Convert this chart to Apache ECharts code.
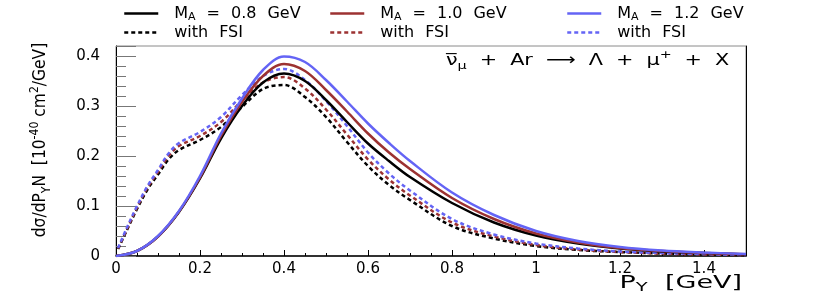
<!DOCTYPE html>
<html>
<head>
<meta charset="utf-8">
<script src="https://cdn.jsdelivr.net/npm/echarts@6/dist/echarts.min.js"></script>
<style>html,body{margin:0;padding:0;background:#fff;overflow:hidden;}#c{width:830px;height:294px;}</style>
</head>
<body>
<div id="c"></div>
<script>
// ---- data ----
const pSolid = [0, 0.05, 0.1, 0.15, 0.2, 0.25, 0.3, 0.35, 0.4, 0.45, 0.5, 0.55, 0.6, 0.65, 0.7, 0.8, 0.9, 1.0, 1.1, 1.2, 1.3, 1.4, 1.5];
const ma08 = [0, 0.01, 0.039, 0.088, 0.155, 0.235, 0.3, 0.347, 0.365, 0.35, 0.312, 0.268, 0.225, 0.19, 0.158, 0.106, 0.067, 0.041, 0.025, 0.015, 0.009, 0.006, 0.003];
const ma10 = [0, 0.01, 0.039, 0.089, 0.157, 0.24, 0.308, 0.36, 0.384, 0.37, 0.332, 0.289, 0.245, 0.207, 0.174, 0.116, 0.074, 0.045, 0.027, 0.016, 0.01, 0.006, 0.0035];
const ma12 = [0, 0.01, 0.04, 0.09, 0.16, 0.245, 0.315, 0.372, 0.399, 0.388, 0.352, 0.309, 0.265, 0.226, 0.19, 0.127, 0.082, 0.05, 0.03, 0.018, 0.011, 0.007, 0.004];
const pFSI = [0.005, 0.025, 0.05, 0.075, 0.1, 0.125, 0.15, 0.2, 0.25, 0.3, 0.35, 0.4, 0.45, 0.5, 0.55, 0.6, 0.65, 0.7, 0.8, 0.9, 1.0, 1.1, 1.2, 1.3, 1.4, 1.5];
const fsi08 = [0.014, 0.05, 0.094, 0.133, 0.163, 0.193, 0.212, 0.232, 0.258, 0.298, 0.334, 0.342, 0.318, 0.278, 0.228, 0.18, 0.142, 0.112, 0.06, 0.035, 0.02, 0.012, 0.008, 0.005, 0.003, 0.002];
const fsi10 = [0.015, 0.052, 0.097, 0.137, 0.168, 0.2, 0.22, 0.24, 0.268, 0.311, 0.347, 0.358, 0.335, 0.293, 0.243, 0.193, 0.153, 0.121, 0.067, 0.039, 0.022, 0.013, 0.008, 0.005, 0.003, 0.002];
const fsi12 = [0.016, 0.055, 0.1, 0.14, 0.172, 0.205, 0.226, 0.248, 0.278, 0.322, 0.36, 0.374, 0.352, 0.31, 0.26, 0.207, 0.165, 0.131, 0.074, 0.043, 0.025, 0.015, 0.009, 0.006, 0.004, 0.002];
const xTicks = [0, 0.2, 0.4, 0.6, 0.8, 1, 1.2, 1.4];
const yTicks = [0, 0.1, 0.2, 0.3, 0.4];

const FONT = '"DejaVu Sans", "Liberation Sans", sans-serif';
const cBlack = '#000000', cRed = '#9c3232', cBlue = '#6464f5';
const DASH = [4, 3];

function pairs(xs, ys) { return xs.map((x, i) => [x, ys[i]]); }
function isTick(v, list) { return list.some(t => Math.abs(t - v) < 1e-6); }

const legendNames = {
  'MA08': '{a|M}{b|A}{g| }{a|=}{g| }{a|0.8}{g| }{a|GeV}',
  'MA10': '{a|M}{b|A}{g| }{a|=}{g| }{a|1.0}{g| }{a|GeV}',
  'MA12': '{a|M}{b|A}{g| }{a|=}{g| }{a|1.2}{g| }{a|GeV}',
  'FSI08': '{a|with}{g| }{a|FSI}', 'FSI10': '{a|with}{g| }{a|FSI}', 'FSI12': '{a|with}{g| }{a|FSI}'
};
const legRich = {
  a: { fontSize: 16, fontFamily: FONT, color: '#000', lineHeight: 19 },
  b: { fontSize: 11, fontFamily: FONT, color: '#000', lineHeight: 11, verticalAlign: 'bottom' },
  g: { fontSize: 16, width: 11, lineHeight: 19 }
};
function mkLegend(left, names) {
  return {
    orient: 'vertical', left: left, top: 4, padding: 0, itemWidth: 34, itemHeight: 14, itemGap: 0,
    selectedMode: false, data: names,
    formatter: n => '{g| }' + legendNames[n],
    itemStyle: { opacity: 0, borderWidth: 0 },
    lineStyle: { width: 2.5 },
    textStyle: { rich: Object.assign({}, legRich), lineHeight: 19 }
  };
}
function mkSeries(name, xs, ys, color, dashed) {
  return {
    name: name, type: 'line', data: pairs(xs, ys), smooth: 0.35, symbol: 'none', showSymbol: false,
    xAxisIndex: 0, yAxisIndex: 0, z: dashed ? 3 : 4,
    lineStyle: { color: color, width: 2.5, type: dashed ? DASH : 'solid', cap: 'butt' },
    itemStyle: { color: color }
  };
}

const chart = echarts.init(document.getElementById('c'), null, { renderer: 'canvas' });
chart.setOption({
  animation: false,
  backgroundColor: '#ffffff',
  grid: { left: 116, top: 46, width: 630, height: 210, show: true, borderColor: '#8a8a8a', borderWidth: 1, backgroundColor: 'transparent' },
  legend: [mkLegend(123, ['MA08', 'FSI08']), mkLegend(329, ['MA10', 'FSI10']), mkLegend(566, ['MA12', 'FSI12'])],
  xAxis: [
    { type: 'value', min: 0, max: 1.5, interval: 0.2, position: 'bottom',
      axisLine: { show: true, lineStyle: { color: '#000', width: 1.5 } },
      axisTick: { show: true, inside: true, length: 6, lineStyle: { color: '#000' } },
      splitLine: { show: false },
      axisLabel: { show: true, margin: 6, color: '#000', fontSize: 15, fontFamily: FONT,
        formatter: v => isTick(v, xTicks) ? String(+v.toFixed(1)) : '' } },
    { type: 'value', min: 0, max: 1.5, interval: 0.05, position: 'bottom',
      axisLine: { show: false }, axisLabel: { show: false }, splitLine: { show: false },
      axisTick: { show: true, inside: true, length: 3, lineStyle: { color: '#000' } } }
  ],
  yAxis: [
    { type: 'value', min: 0, max: 0.42, interval: 0.1, position: 'left',
      axisLine: { show: true, lineStyle: { color: '#000', width: 1 } },
      axisTick: { show: true, inside: true, length: 20, lineStyle: { color: '#777' } },
      splitLine: { show: false },
      axisLabel: { show: true, margin: 16, color: '#000', fontSize: 15, fontFamily: FONT,
        formatter: v => isTick(v, yTicks) ? String(+v.toFixed(1)) : '' } },
    { type: 'value', min: 0, max: 0.42, interval: 0.02, position: 'left',
      axisLine: { show: false }, axisLabel: { show: false }, splitLine: { show: false },
      axisTick: { show: true, inside: true, length: 10, lineStyle: { color: '#777' } } },
    { type: 'value', min: 0, max: 0.42, position: 'right',
      axisLine: { show: true, lineStyle: { color: '#000', width: 1 } },
      axisTick: { show: false }, axisLabel: { show: false }, splitLine: { show: false } }
  ],
  series: [
    mkSeries('FSI08', pFSI, fsi08, cBlack, true),
    mkSeries('FSI10', pFSI, fsi10, cRed, true),
    mkSeries('FSI12', pFSI, fsi12, cBlue, true),
    mkSeries('MA08', pSolid, ma08, cBlack, false),
    mkSeries('MA10', pSolid, ma10, cRed, false),
    mkSeries('MA12', pSolid, ma12, cBlue, false)
  ],
  graphic: [
    { type: 'text', x: 41, y: 140, rotation: Math.PI / 2, scaleX: 0.91, scaleY: 1,
      style: { text: '{t|d\u03C3/dP}{s|Y}{t|N  [10}{p|-40}{t| cm}{p|2}{t|/GeV]}',
        align: 'center', verticalAlign: 'middle',
        rich: {
          t: { fontSize: 17, fontFamily: FONT, fill: '#000', lineHeight: 24 },
          s: { fontSize: 12, fontFamily: FONT, fill: '#000', lineHeight: 12, verticalAlign: 'bottom' },
          p: { fontSize: 12, fontFamily: FONT, fill: '#000', lineHeight: 12, verticalAlign: 'top' }
        } } },
    { type: 'text', x: 742, y: 283, scaleX: 1.5, scaleY: 1,
      style: { text: '{t|P}{s|Y}{t|  [GeV]}', align: 'right', verticalAlign: 'middle',
        rich: {
          t: { fontSize: 18, fontFamily: FONT, fill: '#000', lineHeight: 22 },
          s: { fontSize: 13, fontFamily: FONT, fill: '#000', lineHeight: 13, verticalAlign: 'bottom' }
        } } },
    { type: 'text', x: 446, y: 61, scaleX: 1.3, scaleY: 1,
      style: { text: '{t|\u03BD\u0305}{s|\u03BC}{g| }{t|+}{g| }{t|Ar}{g| }{t|\u27F6}{g| }{t|\u039B}{g| }{t|+}{g| }{t|\u03BC}{p|+}{g| }{t|+}{g| }{t|X}',
        align: 'left', verticalAlign: 'middle',
        rich: {
          t: { fontSize: 16, fontFamily: FONT, fill: '#000', lineHeight: 22 },
          s: { fontSize: 11, fontFamily: FONT, fill: '#000', lineHeight: 11, verticalAlign: 'bottom' },
          p: { fontSize: 11, fontFamily: FONT, fill: '#000', lineHeight: 11, verticalAlign: 'top' },
          g: { fontSize: 16, width: 10 }
        } } }
  ]
});
</script>
</body>
</html>
